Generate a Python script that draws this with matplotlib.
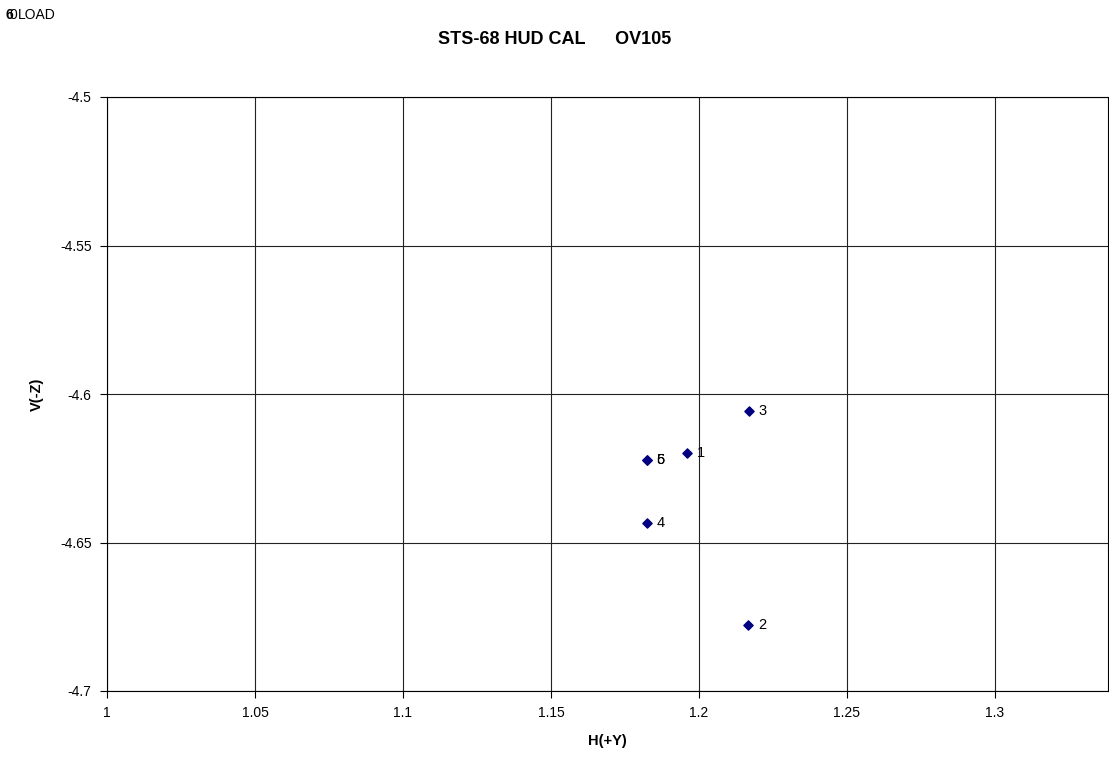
import matplotlib
matplotlib.use("Agg")
import matplotlib.pyplot as plt

plt.rcParams['font.family'] = ['Liberation Sans', 'DejaVu Sans']

labels = ["1", "2", "3", "4", "5", "6"]
h_vals = [1.1959, 1.2166, 1.2169, 1.1824, 1.1824, 1.1824]
v_vals = [-4.6199, -4.6778, -4.6057, -4.6434, -4.6222, -4.6223]

xticks = [1, 1.05, 1.1, 1.15, 1.2, 1.25, 1.3]
xticklabels = ["1", "1.05", "1.1", "1.15", "1.2", "1.25", "1.3"]
yticks = [-4.5, -4.55, -4.6, -4.65, -4.7]
yticklabels = ["-4.5", "-4.55", "-4.6", "-4.65", "-4.7"]

fig = plt.figure(figsize=(11.09, 7.6), dpi=100)
ax = fig.add_axes([107/1109, 1-691/760, (1108-107)/1109, (691-97)/760])
ax.scatter(h_vals, v_vals, marker='D', s=22, color='#000080', zorder=3)
for x, y, t in zip(h_vals, v_vals, labels):
    ax.annotate(t, (x, y), xytext=(7, 0), textcoords='offset points',
                va='center', ha='left', fontsize=10.5, color='black')
ax.set_xlim(1, 1.3382)
ax.set_ylim(-4.7, -4.5)
ax.set_xticks(xticks)
ax.set_xticklabels(xticklabels, fontsize=10)
ax.set_yticks(yticks)
ax.set_yticklabels(yticklabels, fontsize=10)
ax.grid(True, color='#222222', linewidth=0.8)
ax.set_axisbelow(True)
for s in ax.spines.values():
    s.set_color('black')
    s.set_linewidth(0.8)
ax.tick_params(direction='out', length=5, width=0.8, pad=6)
ax.set_xlabel("H(+Y)", fontsize=10.5, fontweight='bold', labelpad=10)
ax.set_ylabel("V(-Z)", fontsize=10.5, fontweight='bold', labelpad=12)
fig.text(0.5, 1-40/760, "STS-68 HUD CAL      OV105", ha='center', va='center',
         fontsize=13, fontweight='bold')
fig.text(5/1109, 1-15/760, "6", fontsize=10, fontweight='bold', va='center', ha='left')
fig.text(10/1109, 1-15/760, "0", fontsize=10, va='center', ha='left')
fig.text(18/1109, 1-15/760, "LOAD", fontsize=10, va='center', ha='left')
fig.savefig("out.png", dpi=100)
